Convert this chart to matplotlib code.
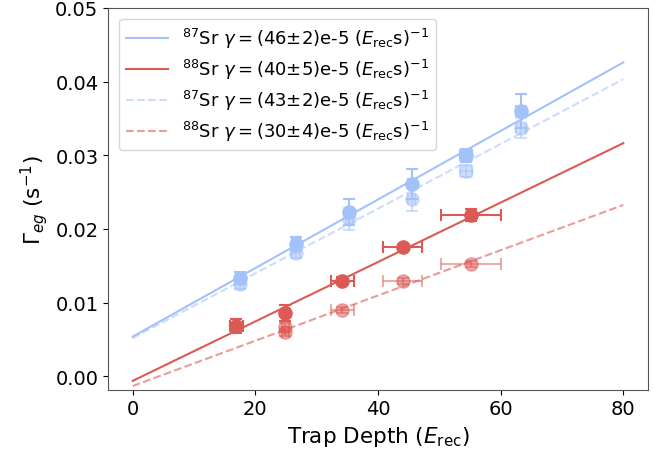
import numpy as np
import matplotlib
matplotlib.use('Agg')
import matplotlib.pyplot as plt

plt.rcParams['font.family'] = ['DejaVu Sans']
plt.rcParams['mathtext.fontset'] = 'dejavusans'

# colours
blue = '#a3c1fb'
red = '#dc5a55'

# 87Sr, first data set (solid fit)
x87 = [17.5, 26.6, 35.3, 45.5, 54.3, 63.3]
g87 = [0.0133, 0.01795, 0.0223, 0.0261, 0.0300, 0.0360]
xerr87 = [0.6, 0.6, 0.6, 0.6, 1.0, 0.8]
yerr87 = [0.0008, 0.0010, 0.0018, 0.0020, 0.0009, 0.0023]

# 87Sr, second data set (dashed fit)
x87b = [17.5, 26.6, 35.3, 45.5, 54.3, 63.3]
g87b = [0.0125, 0.0168, 0.0213, 0.0240, 0.0279, 0.0337]
xerr87b = [0.6, 0.6, 0.6, 0.6, 1.0, 0.8]
yerr87b = [0.0007, 0.0008, 0.0015, 0.0015, 0.0008, 0.0014]

# 88Sr, first data set (solid fit)
x88 = [16.9, 24.9, 34.2, 44.0, 55.1]
g88 = [0.00687, 0.0086, 0.01297, 0.0175, 0.0219]
xerr88 = [1.1, 0.6, 1.9, 3.25, 4.9]
yerr88 = [0.00095, 0.0011, 0.0005, 0.0004, 0.0008]

# 88Sr, second data set (dashed fit)
x88b = [24.9, 24.9, 34.2, 44.0, 55.1]
g88b = [0.0067, 0.0060, 0.00904, 0.0129, 0.01524]
xerr88b = [0.6, 0.6, 1.9, 3.25, 4.9]
yerr88b = [0.0005, 0.0005, 0.0004, 0.0004, 0.0004]

# linear fits: intercept, slope
fit_int = [0.0054, -0.0006, 0.0052, -0.0013]
fit_slope = [0.000465, 0.000403, 0.000439, 0.000307]
fit_labels = [
    r'$^{87}$Sr $\gamma=(46{\pm}2)$e-5 ($E_\mathrm{rec}$s)$^{-1}$',
    r'$^{88}$Sr $\gamma=(40{\pm}5)$e-5 ($E_\mathrm{rec}$s)$^{-1}$',
    r'$^{87}$Sr $\gamma=(43{\pm}2)$e-5 ($E_\mathrm{rec}$s)$^{-1}$',
    r'$^{88}$Sr $\gamma=(30{\pm}4)$e-5 ($E_\mathrm{rec}$s)$^{-1}$',
]
fit_colors = [blue, red, blue, red]
fit_styles = ['-', '-', '--', '--']
fit_alpha = [1.0, 1.0, 0.55, 0.6]

fig, ax = plt.subplots(figsize=(6.72, 4.64), dpi=100)
fig.subplots_adjust(left=0.161, right=0.964, top=0.981, bottom=0.158)

xs = np.linspace(0, 80, 2)
for b, m, lab, c, ls, a in zip(fit_int, fit_slope, fit_labels, fit_colors, fit_styles, fit_alpha):
    ax.plot(xs, b + m * xs, color=c, ls=ls, lw=1.5, alpha=a, label=lab)

ekw = dict(fmt='o', ms=9.5, capsize=4, elinewidth=1.5, capthick=1.5)
ax.errorbar(x87b, g87b, yerr=yerr87b, xerr=xerr87b, color=blue, alpha=0.5, **ekw)
ax.errorbar(x88b, g88b, yerr=yerr88b, xerr=xerr88b, color=red, alpha=0.5, **ekw)
ax.errorbar(x87, g87, yerr=yerr87, xerr=xerr87, color=blue, **ekw)
ax.errorbar(x88, g88, yerr=yerr88, xerr=xerr88, color=red, **ekw)

ax.set_xlim(-4, 84)
ax.set_ylim(-0.0018, 0.05)
ax.set_xticks([0, 20, 40, 60, 80])
ax.set_yticks([0.0, 0.01, 0.02, 0.03, 0.04, 0.05])
ax.set_yticklabels(['0.00', '0.01', '0.02', '0.03', '0.04', '0.05'])
ax.tick_params(labelsize=14)
for s in ax.spines.values():
    s.set_color('#555555')

ax.set_xlabel(r'Trap Depth ($E_\mathrm{rec}$)', fontsize=15.5)
ax.set_ylabel(r'$\Gamma_{eg}$ (s$^{-1}$)', fontsize=15.5)
ax.legend(loc='upper left', fontsize=13, labelspacing=0.38, handlelength=2.3,
          borderaxespad=0.6)

fig.savefig('out.png', dpi=100)
